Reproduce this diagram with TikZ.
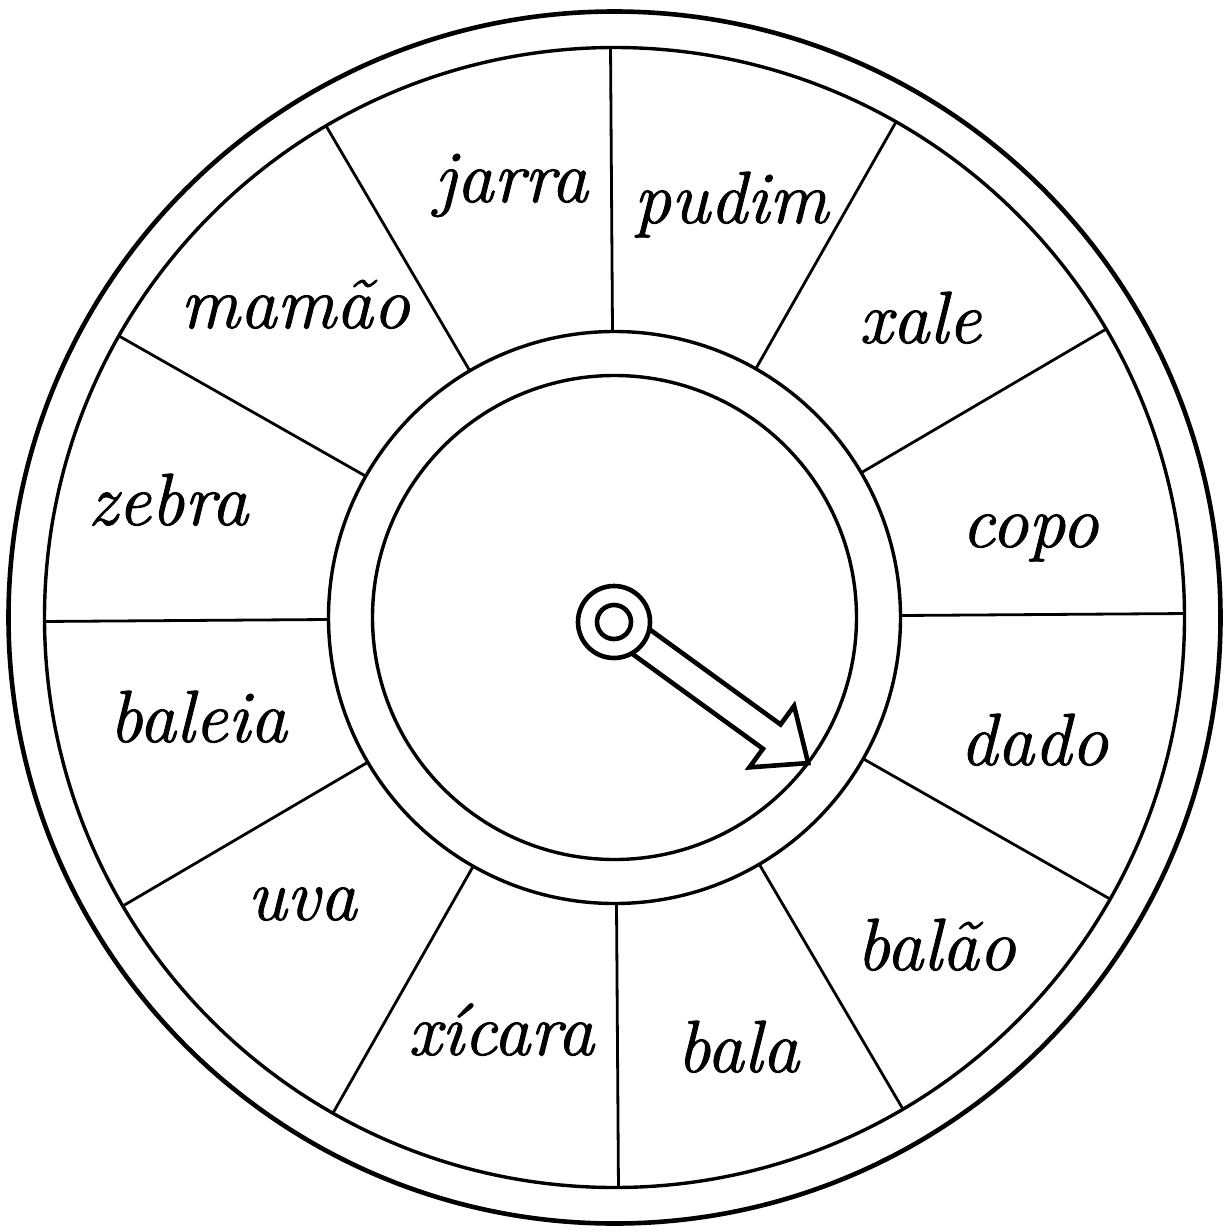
\documentclass[tikz,border=0pt]{standalone}
\usepackage{fontspec}
\newfontfamily\handfont{Latin Modern Roman}[ItalicFeatures={FakeBold=1.2}]
\usetikzlibrary{calc}
\begin{document}
\begin{tikzpicture}[x=0.5pt,y=-0.5pt,
  ring/.style={line width=1.7pt},
  outerring/.style={line width=2.3pt},
  divider/.style={line width=1.4pt},
  pointer/.style={line width=2.3pt},
  word/.style={anchor=base,inner sep=0pt,font=\fontsize{37}{40}\handfont\itshape},
  line join=miter]
\useasboundingbox (0,0) rectangle (1225,1232);
\coordinate (C) at (614.5,617.5);
\coordinate (K) at (614,622);
% circles
\draw[outerring] (C) circle[radius=606];
\draw[ring] (C) circle[radius=570];
\draw[ring] (C) circle[radius=286];
\draw[ring] (C) circle[radius=242];
% dividers
\foreach \k in {0,...,11}{
  \pgfmathsetmacro{\a}{\k*30-0.4}
  \draw[divider] ($(C)+(\a:286)$) -- ($(C)+(\a:570)$);
}
% knob
\draw[pointer] (K) circle[radius=36];
\draw[pointer] (K) circle[radius=17];
% arrow
\begin{scope}[shift={(K)},rotate=-36]
  \draw[pointer] (32.7,-15) -- (195,-15) -- (195,-38) -- (240,0) -- (195,38) -- (195,15) -- (32.7,15);
\end{scope}
% words
\node[word] (jarra) at (511,202) {jarra};
\node[word] (pudim) at (731,223) {pudim};
\node[word] (xale) at (920,343) {xale};
\node[word] (copo) at (1030,547) {copo};
\node[word] (dado) at (1034,765) {dado};
\node[word] (balao) at (936,970) {balão};
\node[word] (bala) at (738,1072) {bala};
\node[word] (xicara) at (501,1055) {xícara};
\node[word] (uva) at (302,920) {uva};
\node[word] (baleia) at (198,742) {baleia};
\node[word] (zebra) at (168,525) {zebra};
\node[word] (mamao) at (295,328) {mamão};
\end{tikzpicture}
\end{document}
